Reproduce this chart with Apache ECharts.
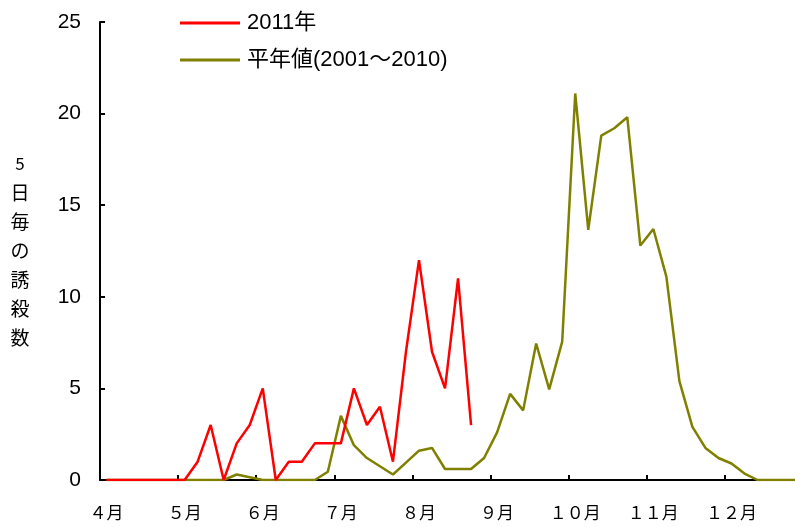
<!DOCTYPE html>
<html>
<head>
<meta charset="utf-8">
<script src="https://cdn.jsdelivr.net/npm/echarts@6/dist/echarts.min.js"></script>
<style>
  html, body { margin: 0; padding: 0; background: #fff; }
  #chart { width: 795px; height: 527px; }
</style>
</head>
<body>
<div id="chart"></div>
<script>
// Month labels (6 five-day periods per month)
const months = ['４月', '５月', '６月', '７月', '８月', '９月', '１０月', '１１月', '１２月'];
const periodsPerMonth = 6;

// 2011 trap counts per 5-day period (ends late August)
const series2011 = [0, 0, 0, 0, 0, 0, 0, 1, 3, 0, 2, 3,
                    5, 0, 1, 1, 2, 2, 2, 5, 3, 4, 1, 7,
                    12, 7, 5, 11, 3];

// Normal year average (2001-2010)
const seriesNormal = [0, 0, 0, 0, 0, 0, 0, 0, 0, 0, 0.3, 0.15,
                      0, 0, 0, 0, 0, 0.45, 3.5, 1.9, 1.2, 0.75, 0.3, 0.95,
                      1.6, 1.75, 0.6, 0.6, 0.6, 1.2, 2.6, 4.7, 3.8, 7.45, 4.95, 7.55,
                      21.1, 13.65, 18.8, 19.2, 19.8, 12.8, 13.7, 11.1, 5.4, 2.9, 1.75, 1.2,
                      0.9, 0.35, 0, 0, 0, 0];

const yTicks = [0, 5, 10, 15, 20, 25];

const categories = [];
months.forEach(m => { for (let k = 1; k <= periodsPerMonth; k++) categories.push(m + '_' + k); });

const total = categories.length;
const data2011 = categories.map((c, i) => i < series2011.length ? series2011[i] : null);

const chart = echarts.init(document.getElementById('chart'), null, { renderer: 'canvas' });
const cjk = '"Noto Sans CJK JP", "Noto Sans", sans-serif';
const latin = '"Liberation Sans", Arial, "Noto Sans CJK JP", sans-serif';

chart.setOption({
  animation: false,
  backgroundColor: '#ffffff',
  grid: { left: 100, top: 22, bottom: 47, width: total * 13.02, outerBoundsMode: 'none', containLabel: false },
  legend: {
    orient: 'vertical',
    left: 180,
    top: 12,
    padding: 0,
    icon: 'rect',
    itemWidth: 60,
    itemHeight: 3,
    itemGap: 15,
    textStyle: { fontSize: 22, lineHeight: 22, color: '#000', fontFamily: latin, padding: [0, 0, 0, 2] },
    data: ['2011年', '平年値(2001～2010)']
  },
  xAxis: {
    type: 'category',
    data: categories,
    boundaryGap: true,
    axisLine: { lineStyle: { color: '#000', width: 2 } },
    axisTick: { show: true, inside: true, length: 5, interval: periodsPerMonth - 1, lineStyle: { color: '#000', width: 2 } },
    axisLabel: {
      interval: periodsPerMonth - 1,
      margin: 24,
      fontSize: 17,
      color: '#000',
      fontFamily: cjk,
      formatter: v => v.split('_')[0]
    },
    splitLine: { show: false }
  },
  yAxis: {
    type: 'value',
    min: yTicks[0],
    max: yTicks[yTicks.length - 1],
    interval: 5,
    name: '{s|5}\n日\n毎\nの\n誘\n殺\n数',
    nameLocation: 'middle',
    nameRotate: 0,
    nameGap: 80,
    nameTextStyle: {
      fontSize: 19, lineHeight: 29, color: '#000', fontFamily: cjk, align: 'center',
      rich: { s: { fontSize: 17, lineHeight: 29, color: '#000', fontFamily: cjk } }
    },
    axisLine: { show: true, lineStyle: { color: '#000', width: 2 } },
    axisTick: { show: true, inside: true, length: 5, lineStyle: { color: '#000', width: 2 } },
    axisLabel: { margin: 19, fontSize: 21, color: '#000', fontFamily: latin },
    splitLine: { show: false }
  },
  series: [
    {
      name: '2011年',
      type: 'line',
      data: data2011,
      symbol: 'none',
      connectNulls: false,
      lineStyle: { color: '#ff0000', width: 2.5 },
      itemStyle: { color: '#ff0000' },
      z: 3
    },
    {
      name: '平年値(2001～2010)',
      type: 'line',
      data: seriesNormal,
      symbol: 'none',
      lineStyle: { color: '#808000', width: 2.5 },
      itemStyle: { color: '#808000' },
      z: 2
    }
  ]
});
</script>
</body>
</html>
